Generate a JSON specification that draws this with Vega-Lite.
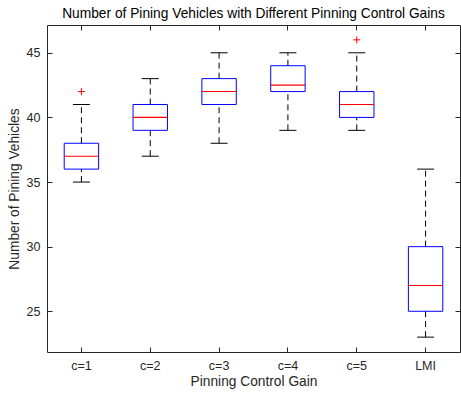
{
  "$schema": "https://vega.github.io/schema/vega-lite/v6.json",
  "width": 413,
  "height": 327,
  "autosize": {"type": "none"},
  "padding": {"left": 47, "top": 25, "right": 1, "bottom": 41},
  "title": {"text": "Number of Pining Vehicles with Different Pinning Control Gains", "fontSize": 13.75, "fontWeight": "normal", "font": "Liberation Sans", "color": "#000000", "offset": 4},
  "config": {
    "view": {"stroke": "#262626", "strokeWidth": 1},
    "font": "Liberation Sans",
    "axis": {"grid": false, "domain": false, "labelFont": "Liberation Sans", "titleFont": "Liberation Sans", "labelColor": "#262626", "titleColor": "#262626", "tickColor": "#262626", "labelFontSize": 12.5, "titleFontSize": 13.75, "titleFontWeight": "normal", "tickSize": -5}
  },
  "datasets": {
    "stats": [
      {"group": "c=1", "lower": 35, "q1": 36, "median": 37, "q3": 38, "upper": 41},
      {"group": "c=2", "lower": 37, "q1": 39, "median": 40, "q3": 41, "upper": 43},
      {"group": "c=3", "lower": 38, "q1": 41, "median": 42, "q3": 43, "upper": 45},
      {"group": "c=4", "lower": 39, "q1": 42, "median": 42.5, "q3": 44, "upper": 45},
      {"group": "c=5", "lower": 39, "q1": 40, "median": 41, "q3": 42, "upper": 45},
      {"group": "LMI", "lower": 23, "q1": 25, "median": 27, "q3": 30, "upper": 36}
    ],
    "outliers": [
      {"group": "c=1", "value": 42},
      {"group": "c=5", "value": 46}
    ]
  },
  "resolve": {"axis": {"x": "independent", "y": "independent"}},
  "layer": [
    {
      "data": {"name": "stats"},
      "mark": {"type": "rule", "color": "#000000", "strokeDash": [6, 4], "strokeWidth": 1},
      "encoding": {
        "x": {"field": "group", "type": "nominal", "sort": ["c=1", "c=2", "c=3", "c=4", "c=5", "LMI"], "scale": {"type": "band", "paddingInner": 0, "paddingOuter": 0}, "axis": {"orient": "bottom", "title": "Pinning Control Gain", "labelAngle": 0, "labelPadding": 12, "titlePadding": 3}},
        "y": {"field": "lower", "type": "quantitative", "scale": {"domain": [21.85, 47.15], "nice": false, "zero": false}, "axis": {"orient": "left", "title": "Number of Pining Vehicles", "values": [25, 30, 35, 40, 45], "labelPadding": 12, "titlePadding": 5}},
        "y2": {"field": "q1"}
      }
    },
    {
      "data": {"name": "stats"},
      "mark": {"type": "rule", "color": "#000000", "strokeDash": [6, 4], "strokeWidth": 1},
      "encoding": {
        "x": {"field": "group", "type": "nominal", "sort": ["c=1", "c=2", "c=3", "c=4", "c=5", "LMI"], "axis": {"orient": "top", "labels": false, "title": null}},
        "y": {"field": "q3", "type": "quantitative", "axis": {"orient": "right", "labels": false, "title": null, "values": [25, 30, 35, 40, 45]}},
        "y2": {"field": "upper"}
      }
    },
    {
      "data": {"name": "stats"},
      "mark": {"type": "bar", "fill": "#ffffff", "fillOpacity": 0, "stroke": "#0000ff", "strokeWidth": 1, "width": {"band": 0.5}},
      "encoding": {
        "x": {"field": "group", "type": "nominal", "sort": ["c=1", "c=2", "c=3", "c=4", "c=5", "LMI"], "axis": null},
        "y": {"field": "q1", "type": "quantitative", "axis": null},
        "y2": {"field": "q3"}
      }
    },
    {
      "data": {"name": "stats"},
      "mark": {"type": "tick", "color": "#ff0000", "thickness": 1.1, "size": 34.5, "opacity": 1},
      "encoding": {
        "x": {"field": "group", "type": "nominal", "sort": ["c=1", "c=2", "c=3", "c=4", "c=5", "LMI"], "axis": null},
        "y": {"field": "median", "type": "quantitative", "axis": null}
      }
    },
    {
      "data": {"name": "stats"},
      "mark": {"type": "tick", "color": "#000000", "thickness": 1, "size": 17, "opacity": 1},
      "encoding": {
        "x": {"field": "group", "type": "nominal", "sort": ["c=1", "c=2", "c=3", "c=4", "c=5", "LMI"], "axis": null},
        "y": {"field": "lower", "type": "quantitative", "axis": null}
      }
    },
    {
      "data": {"name": "stats"},
      "mark": {"type": "tick", "color": "#000000", "thickness": 1, "size": 17, "opacity": 1},
      "encoding": {
        "x": {"field": "group", "type": "nominal", "sort": ["c=1", "c=2", "c=3", "c=4", "c=5", "LMI"], "axis": null},
        "y": {"field": "upper", "type": "quantitative", "axis": null}
      }
    },
    {
      "data": {"name": "outliers"},
      "mark": {"type": "point", "shape": "M -1 0 L 1 0 M 0 -1 L 0 1", "filled": false, "stroke": "#ff0000", "strokeWidth": 1, "size": 49, "opacity": 1},
      "encoding": {
        "x": {"field": "group", "type": "nominal", "sort": ["c=1", "c=2", "c=3", "c=4", "c=5", "LMI"], "axis": null},
        "y": {"field": "value", "type": "quantitative", "axis": null}
      }
    }
  ]
}
